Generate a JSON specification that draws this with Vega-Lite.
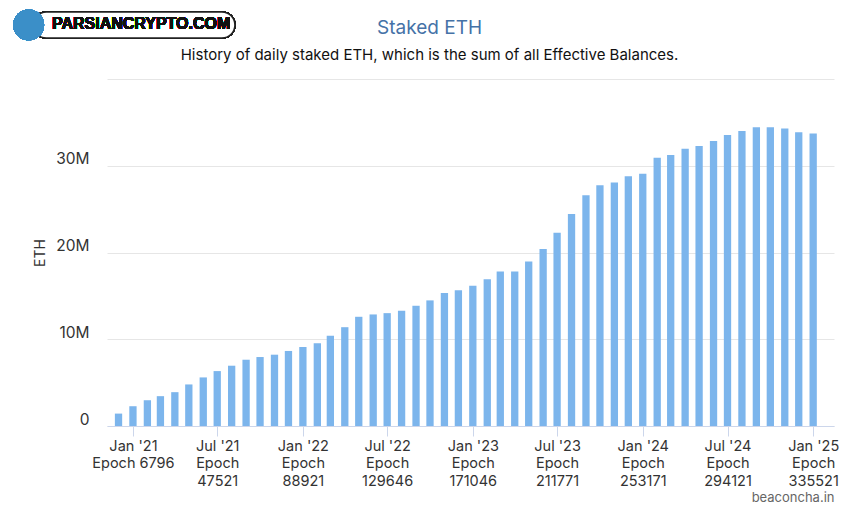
{
  "$schema": "https://vega.github.io/schema/vega-lite/v6.json",
  "width": 727,
  "height": 347,
  "autosize": {"type": "none"},
  "padding": {"left": 107, "top": 79, "right": 23, "bottom": 91},
  "background": "white",
  "config": {
    "font": "Inter",
    "view": {"stroke": null}
  },
  "title": {
    "text": "Staked ETH",
    "subtitle": "History of daily staked ETH, which is the sum of all Effective Balances.",
    "anchor": "middle",
    "dx": -41,
    "font": "Inter",
    "fontSize": 19,
    "fontWeight": "normal",
    "color": "#4572a7",
    "subtitleFont": "Inter",
    "subtitleFontSize": 15,
    "subtitleColor": "#111111",
    "subtitlePadding": 10,
    "offset": -53
  },
  "data": {
    "values": [
      {"date": "2020-12-01T00:00:00", "staked": 1430000},
      {"date": "2021-01-01T00:00:00", "staked": 2280000},
      {"date": "2021-02-01T00:00:00", "staked": 2970000},
      {"date": "2021-03-01T00:00:00", "staked": 3440000},
      {"date": "2021-04-01T00:00:00", "staked": 3900000},
      {"date": "2021-05-01T00:00:00", "staked": 4790000},
      {"date": "2021-06-01T00:00:00", "staked": 5600000},
      {"date": "2021-07-01T00:00:00", "staked": 6330000},
      {"date": "2021-08-01T00:00:00", "staked": 6950000},
      {"date": "2021-09-01T00:00:00", "staked": 7640000},
      {"date": "2021-10-01T00:00:00", "staked": 7950000},
      {"date": "2021-11-01T00:00:00", "staked": 8220000},
      {"date": "2021-12-01T00:00:00", "staked": 8650000},
      {"date": "2022-01-01T00:00:00", "staked": 9110000},
      {"date": "2022-02-01T00:00:00", "staked": 9540000},
      {"date": "2022-03-01T00:00:00", "staked": 10390000},
      {"date": "2022-04-01T00:00:00", "staked": 11390000},
      {"date": "2022-05-01T00:00:00", "staked": 12590000},
      {"date": "2022-06-01T00:00:00", "staked": 12860000},
      {"date": "2022-07-01T00:00:00", "staked": 13010000},
      {"date": "2022-08-01T00:00:00", "staked": 13280000},
      {"date": "2022-09-01T00:00:00", "staked": 13860000},
      {"date": "2022-10-01T00:00:00", "staked": 14480000},
      {"date": "2022-11-01T00:00:00", "staked": 15330000},
      {"date": "2022-12-01T00:00:00", "staked": 15640000},
      {"date": "2023-01-01T00:00:00", "staked": 16180000},
      {"date": "2023-02-01T00:00:00", "staked": 16910000},
      {"date": "2023-03-01T00:00:00", "staked": 17800000},
      {"date": "2023-04-01T00:00:00", "staked": 17800000},
      {"date": "2023-05-01T00:00:00", "staked": 18960000},
      {"date": "2023-06-01T00:00:00", "staked": 20390000},
      {"date": "2023-07-01T00:00:00", "staked": 22280000},
      {"date": "2023-08-01T00:00:00", "staked": 24440000},
      {"date": "2023-09-01T00:00:00", "staked": 26600000},
      {"date": "2023-10-01T00:00:00", "staked": 27760000},
      {"date": "2023-11-01T00:00:00", "staked": 28070000},
      {"date": "2023-12-01T00:00:00", "staked": 28800000},
      {"date": "2024-01-01T00:00:00", "staked": 29070000},
      {"date": "2024-02-01T00:00:00", "staked": 30930000},
      {"date": "2024-03-01T00:00:00", "staked": 31240000},
      {"date": "2024-04-01T00:00:00", "staked": 31970000},
      {"date": "2024-05-01T00:00:00", "staked": 32280000},
      {"date": "2024-06-01T00:00:00", "staked": 32860000},
      {"date": "2024-07-01T00:00:00", "staked": 33550000},
      {"date": "2024-08-01T00:00:00", "staked": 34020000},
      {"date": "2024-09-01T00:00:00", "staked": 34440000},
      {"date": "2024-10-01T00:00:00", "staked": 34440000},
      {"date": "2024-11-01T00:00:00", "staked": 34290000},
      {"date": "2024-12-01T00:00:00", "staked": 33860000},
      {"date": "2025-01-01T00:00:00", "staked": 33710000}
    ]
  },
  "layer": [
    {
      "mark": {"type": "bar", "width": 7.3, "color": "#7cb5ec"},
      "encoding": {
        "x": {
          "field": "date",
          "type": "temporal",
          "scale": {"domain": [{"year": 2020, "month": 11, "date": 17}, {"year": 2025, "month": 2, "date": 4}]},
          "axis": {
            "title": "beaconcha.in",
            "titleAnchor": "end",
            "titleFont": "Inter",
            "titleFontSize": 13,
            "titleFontWeight": "normal",
            "titleColor": "#666666",
            "titlePadding": 4,
            "values": [
              {"year": 2021, "month": 1, "date": 1},
              {"year": 2021, "month": 7, "date": 1},
              {"year": 2022, "month": 1, "date": 1},
              {"year": 2022, "month": 7, "date": 1},
              {"year": 2023, "month": 1, "date": 1},
              {"year": 2023, "month": 7, "date": 1},
              {"year": 2024, "month": 1, "date": 1},
              {"year": 2024, "month": 7, "date": 1},
              {"year": 2025, "month": 1, "date": 1}
            ],
            "labelExpr": "timeFormat(datum.value, '%Y-%m') == '2021-01' ? [\"Jan '21\", 'Epoch 6796'] : [timeFormat(datum.value, \"%b '%y\"), 'Epoch', ['47521','88921','129646','171046','211771','253171','294121','335521'][indexof(['2021-07','2022-01','2022-07','2023-01','2023-07','2024-01','2024-07','2025-01'], timeFormat(datum.value, '%Y-%m'))]]",
            "labelFont": "Inter",
            "labelFontSize": 14.5,
            "labelLineHeight": 17.5,
            "labelColor": "#333333",
            "labelPadding": 3,
            "labelOverlap": false,
            "labelFlush": false,
            "grid": false,
            "domainColor": "#ccd6eb",
            "tickColor": "#ccd6eb",
            "tickSize": 10
          }
        },
        "y": {
          "field": "staked",
          "type": "quantitative",
          "scale": {"domain": [0, 40000000], "nice": false},
          "axis": {
            "title": "ETH",
            "titleFont": "Inter",
            "titleFontSize": 14,
            "titleFontWeight": "normal",
            "titleColor": "#333333",
            "titlePadding": 8,
            "values": [0, 10000000, 20000000, 30000000, 40000000],
            "labelExpr": "datum.value >= 40000000 ? '' : format(datum.value, '~s')",
            "labelFont": "Inter",
            "labelFontSize": 15.5,
            "labelColor": "#333333",
            "labelPadding": 18,
            "labelOffset": -7,
            "domain": false,
            "ticks": false,
            "gridColor": "#e6e6e6"
          }
        }
      }
    },
    {
      "mark": {"type": "rect", "fill": "white", "stroke": "#222222", "strokeWidth": 1.5, "cornerRadius": 13},
      "encoding": {
        "x": {"datum": {"year": 2020, "month": 6, "date": 1}, "type": "temporal"},
        "x2": {"datum": {"year": 2021, "month": 8, "date": 8}},
        "y": {"datum": 47730000, "type": "quantitative"},
        "y2": {"datum": 44730000}
      }
    },
    {
      "mark": {"type": "point", "filled": true, "shape": "circle", "size": 950, "color": "#3b8fc8", "opacity": 1},
      "encoding": {
        "x": {"datum": {"year": 2020, "month": 5, "date": 22}, "type": "temporal"},
        "y": {"datum": 46230000, "type": "quantitative"}
      }
    },
    {
      "mark": {"type": "text", "text": "PARSIANCRYPTO.COM", "align": "left", "baseline": "middle", "font": "Liberation Sans", "fontWeight": "bold", "fontSize": 16, "color": "#111111"},
      "encoding": {
        "x": {"datum": {"year": 2020, "month": 7, "date": 11}, "type": "temporal"},
        "y": {"datum": 46340000, "type": "quantitative"}
      }
    }
  ]
}
